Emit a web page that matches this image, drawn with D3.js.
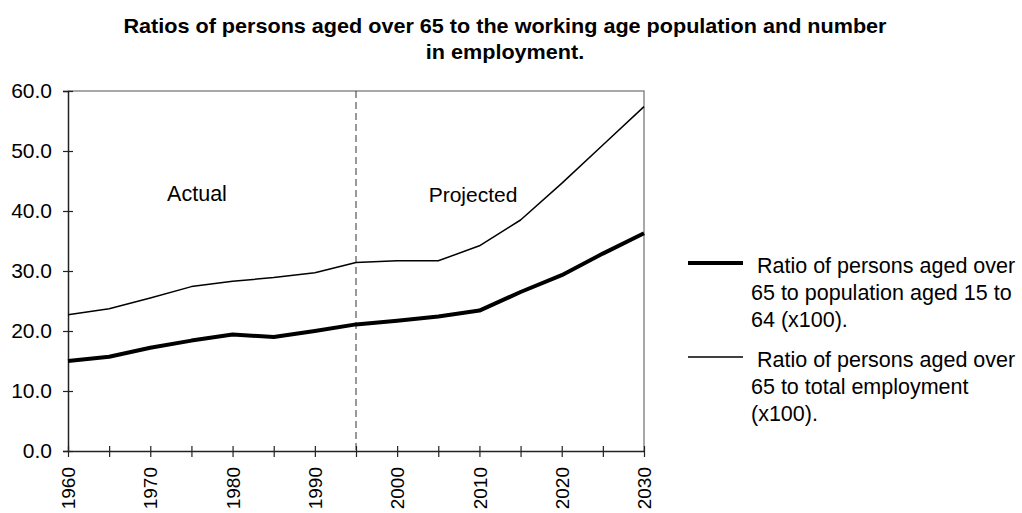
<!DOCTYPE html>
<html>
<head>
<meta charset="utf-8">
<script src="https://cdn.jsdelivr.net/npm/d3@7"></script>
<style>
  html, body { margin: 0; padding: 0; background: #fff; }
  svg { display: block; font-family: "Liberation Sans", Arial, sans-serif; }
</style>
</head>
<body>
<svg id="chart" width="1022" height="513"></svg>
<script>
// Years on the category axis (five-year steps)
const years = [1960, 1965, 1970, 1975, 1980, 1985, 1990, 1995, 2000, 2005, 2010, 2015, 2020, 2025, 2030];

// Ratio of persons aged over 65 to population aged 15 to 64 (x100)
const ratioWorkingAge = [15.0, 15.7, 17.2, 18.4, 19.4, 19.0, 20.0, 21.1, 21.7, 22.4, 23.4, 26.5, 29.3, 32.9, 36.3];

// Ratio of persons aged over 65 to total employment (x100)
const ratioEmployment = [22.7, 23.7, 25.5, 27.4, 28.3, 28.9, 29.7, 31.4, 31.7, 31.7, 34.2, 38.5, 44.6, 51.0, 57.4];

const yTicks = [0, 10, 20, 30, 40, 50, 60];
const labelledYears = [1960, 1970, 1980, 1990, 2000, 2010, 2020, 2030];
const splitYear = 1995;

const titleLines = [
  "Ratios of persons aged over 65 to the working age population and number",
  "in employment."
];
const legendEntries = [
  { lines: [" Ratio of persons aged over", "65 to population aged 15 to", "64 (x100)."], width: 4 },
  { lines: [" Ratio of persons aged over", "65 to total employment", "(x100)."], width: 1.5 }
];

const svg = d3.select("#chart");
const plot = { left: 68, right: 644, top: 91, bottom: 451 };

const x = d3.scalePoint().domain(years).range([plot.left, plot.right]);
const y = d3.scaleLinear().domain([0, 60]).range([plot.bottom, plot.top]);

// Title: condensed bold; both lines share the same horizontal squeeze
const titleFirstWidth = 763;
const titleNodes = titleLines.map((t, i) => svg.append("text")
  .attr("x", 505).attr("y", 33 + i * 26)
  .attr("text-anchor", "middle")
  .attr("font-size", 20.5).attr("font-weight", "bold")
  .attr("fill", "#000")
  .text(t));
const squeeze = titleFirstWidth / titleNodes[0].node().getComputedTextLength();
titleNodes.forEach(n => {
  const w = n.node().getComputedTextLength() * squeeze;
  n.attr("textLength", w).attr("lengthAdjust", "spacingAndGlyphs");
});

// Plot frame: top and right edges
svg.append("path")
  .attr("d", `M${plot.left},${plot.top}H${plot.right}V${plot.bottom}`)
  .attr("fill", "none").attr("stroke", "#8c8c8c").attr("stroke-width", 1.5);

// Divider between actual and projected values
svg.append("line")
  .attr("x1", x(splitYear)).attr("x2", x(splitYear))
  .attr("y1", plot.top).attr("y2", plot.bottom)
  .attr("stroke", "#333").attr("stroke-width", 1)
  .attr("stroke-dasharray", "7,4");

// Y axis
const yAxis = svg.append("g")
  .attr("transform", `translate(${plot.left},0)`)
  .call(d3.axisLeft(y).tickValues(yTicks).tickFormat(d3.format(".1f")).tickSize(5).tickPadding(11));
yAxis.select(".domain").attr("stroke", "#222").attr("stroke-width", 1.5);
yAxis.selectAll(".tick line").attr("x1", 5).attr("x2", -5).attr("stroke", "#222").attr("stroke-width", 1.2);
yAxis.selectAll(".tick text")
  .attr("font-size", 21).attr("font-family", "Liberation Sans, Arial, sans-serif").attr("fill", "#000");

// X axis
const xAxis = svg.append("g")
  .attr("transform", `translate(0,${plot.bottom})`)
  .call(d3.axisBottom(x).tickSize(6).tickSizeOuter(0)
    .tickFormat(d => labelledYears.includes(d) ? String(d) : ""));
xAxis.select(".domain").attr("stroke", "#222").attr("stroke-width", 1.5);
xAxis.selectAll(".tick line").attr("y1", -5).attr("y2", 6).attr("stroke", "#222").attr("stroke-width", 1.2);
xAxis.selectAll(".tick text")
  .attr("font-size", 19).attr("font-family", "Liberation Sans, Arial, sans-serif").attr("fill", "#000")
  .attr("transform", "rotate(-90)")
  .attr("text-anchor", "end")
  .attr("x", -16).attr("y", 0).attr("dy", "0.35em");

// Series lines
const line = d3.line().x((d, i) => x(years[i])).y(d => y(d));
svg.append("path").datum(ratioEmployment)
  .attr("d", line).attr("fill", "none").attr("stroke", "#000")
  .attr("stroke-width", 1.5).attr("stroke-linejoin", "round");
svg.append("path").datum(ratioWorkingAge)
  .attr("d", line).attr("fill", "none").attr("stroke", "#000")
  .attr("stroke-width", 4).attr("stroke-linejoin", "round");

// Period labels
svg.append("text").attr("x", 197).attr("y", 201).attr("text-anchor", "middle")
  .attr("font-size", 21.5).text("Actual");
svg.append("text").attr("x", 473).attr("y", 202).attr("text-anchor", "middle")
  .attr("font-size", 21).text("Projected");

// Legend
const legendTop = [263, 357];
legendEntries.forEach((e, i) => {
  const g = svg.append("g");
  g.append("line")
    .attr("x1", 688).attr("x2", 743)
    .attr("y1", legendTop[i]).attr("y2", legendTop[i])
    .attr("stroke", "#000").attr("stroke-width", e.width);
  e.lines.forEach((t, j) => {
    g.append("text")
      .attr("x", 751).attr("y", legendTop[i] + 10 + j * 27)
      .attr("font-size", 21.5).attr("xml:space", "preserve")
      .style("white-space", "pre")
      .text(t);
  });
});
</script>
</body>
</html>
